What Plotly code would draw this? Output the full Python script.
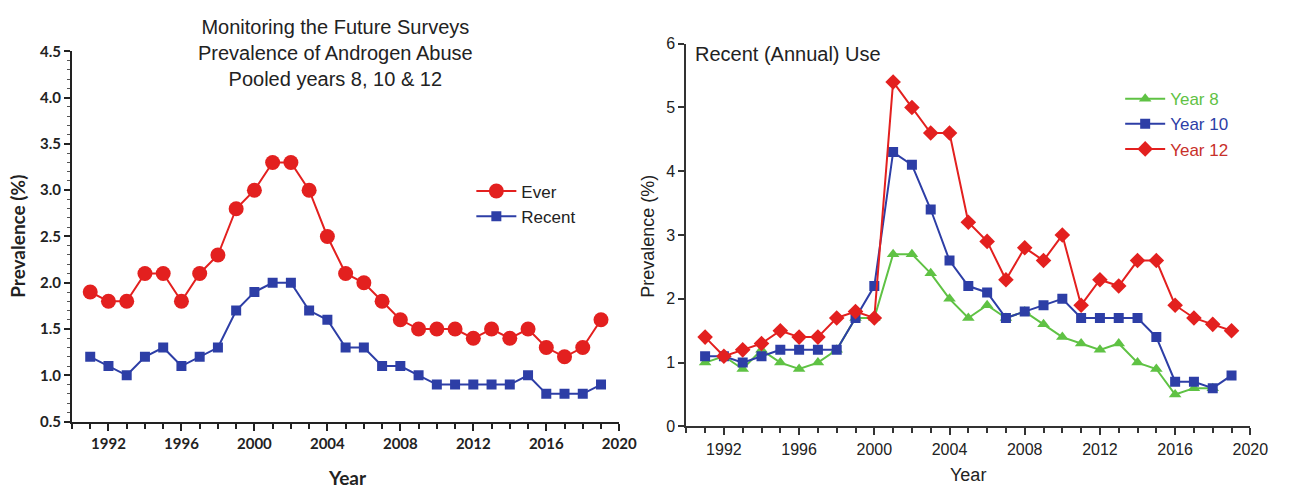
import plotly.graph_objects as go

years = list(range(1991, 2020))
ever = [1.9, 1.8, 1.8, 2.1, 2.1, 1.8, 2.1, 2.3, 2.8, 3.0, 3.3, 3.3, 3.0, 2.5, 2.1,
        2.0, 1.8, 1.6, 1.5, 1.5, 1.5, 1.4, 1.5, 1.4, 1.5, 1.3, 1.2, 1.3, 1.6]
recent = [1.2, 1.1, 1.0, 1.2, 1.3, 1.1, 1.2, 1.3, 1.7, 1.9, 2.0, 2.0, 1.7, 1.6, 1.3,
          1.3, 1.1, 1.1, 1.0, 0.9, 0.9, 0.9, 0.9, 0.9, 1.0, 0.8, 0.8, 0.8, 0.9]

years8 = list(range(1991, 2019))
year8 = [1.0, 1.1, 0.9, 1.2, 1.0, 0.9, 1.0, 1.2, 1.7, 1.7, 2.7, 2.7, 2.4, 2.0, 1.7,
         1.9, 1.7, 1.8, 1.6, 1.4, 1.3, 1.2, 1.3, 1.0, 0.9, 0.5, 0.6, 0.6]
year10 = [1.1, 1.1, 1.0, 1.1, 1.2, 1.2, 1.2, 1.2, 1.7, 2.2, 4.3, 4.1, 3.4, 2.6, 2.2,
          2.1, 1.7, 1.8, 1.9, 2.0, 1.7, 1.7, 1.7, 1.7, 1.4, 0.7, 0.7, 0.6, 0.8]
year12 = [1.4, 1.1, 1.2, 1.3, 1.5, 1.4, 1.4, 1.7, 1.8, 1.7, 5.4, 5.0, 4.6, 4.6, 3.2,
          2.9, 2.3, 2.8, 2.6, 3.0, 1.9, 2.3, 2.2, 2.6, 2.6, 1.9, 1.7, 1.6, 1.5]

x_ticks = [1992, 1996, 2000, 2004, 2008, 2012, 2016, 2020]

RED = "#e3201f"
BLUE = "#2d3ea6"
GREEN = "#5fc244"
LEG_RED = "#c8302a"

def colored(txt, c):
    return f"<span style='color:{c}'>{txt}</span>"

fig = go.Figure()

# Left panel
fig.add_trace(go.Scatter(x=years, y=ever, name="Ever", mode="lines+markers",
                         line=dict(color=RED, width=2),
                         marker=dict(symbol="circle", size=15, color=RED),
                         xaxis="x", yaxis="y", legend="legend"))
fig.add_trace(go.Scatter(x=years, y=recent, name="Recent", mode="lines+markers",
                         line=dict(color=BLUE, width=2),
                         marker=dict(symbol="square", size=10, color=BLUE),
                         xaxis="x", yaxis="y", legend="legend"))

# Right panel
fig.add_trace(go.Scatter(x=years8, y=year8, name=colored("Year 8", GREEN), mode="lines+markers",
                         line=dict(color=GREEN, width=2),
                         marker=dict(symbol="triangle-up", size=11, color=GREEN),
                         xaxis="x2", yaxis="y2", legend="legend2"))
fig.add_trace(go.Scatter(x=years, y=year10, name=colored("Year 10", BLUE), mode="lines+markers",
                         line=dict(color=BLUE, width=2),
                         marker=dict(symbol="square", size=10, color=BLUE),
                         xaxis="x2", yaxis="y2", legend="legend2"))
fig.add_trace(go.Scatter(x=years, y=year12, name=colored("Year 12", LEG_RED), mode="lines+markers",
                         line=dict(color=RED, width=2),
                         marker=dict(symbol="diamond", size=12, color=RED),
                         xaxis="x2", yaxis="y2", legend="legend2"))

W, H = 1292, 496
def px(x): return x / W
def py(y): return 1 - y / H

bold_font = dict(family="Lato, Open Sans, sans-serif", size=15, color="#222", weight="bold")
arial = dict(family="Liberation Sans, Arial, sans-serif", size=16, color="#222")

fig.update_layout(
    width=W, height=H,
    margin=dict(l=0, r=0, t=0, b=0),
    paper_bgcolor="white", plot_bgcolor="white",
    xaxis=dict(domain=[px(73), px(628)], range=[1990, 2020], anchor="y",
               tickvals=x_ticks, ticks="outside", ticklen=7, tickwidth=2,
               tickcolor="#222", showline=True, linecolor="#222", linewidth=2,
               showgrid=False, zeroline=False, tickfont=bold_font,
               minor=dict(dtick=1, tick0=1990, ticks="outside", ticklen=5,
                          tickwidth=2, tickcolor="#222", showgrid=False)),
    yaxis=dict(domain=[py(428), py(43)], range=[0.5, 4.5], anchor="x",
               dtick=0.5, tickformat=".1f", ticks="outside", ticklen=6, tickwidth=2,
               tickcolor="#222", showline=True, linecolor="#222", linewidth=2,
               showgrid=False, zeroline=False, tickfont=bold_font,
               minor=dict(dtick=0.1, ticks="outside", ticklen=3, tickwidth=1,
                          tickcolor="#555", showgrid=False)),
    xaxis2=dict(domain=[px(696), px(1268)], range=[1990, 2020], anchor="y2",
                tickvals=x_ticks, ticks="outside", ticklen=7, tickwidth=1.5,
                tickcolor="#333", showline=True, linecolor="#333", linewidth=2,
                showgrid=False, zeroline=False, tickfont=arial,
                minor=dict(dtick=1, tick0=1990, ticks="outside", ticklen=5,
                           tickwidth=1.5, tickcolor="#333", showgrid=False)),
    yaxis2=dict(domain=[py(433), py(35)], range=[0, 6], anchor="x2",
                dtick=1, ticks="outside", ticklen=6, tickwidth=1.5,
                tickcolor="#333", showline=True, linecolor="#333", linewidth=2,
                showgrid=False, zeroline=False, tickfont=arial),
    legend=dict(x=px(478), y=py(170), xanchor="left", yanchor="top",
                bgcolor="rgba(0,0,0,0)", tracegroupgap=0, itemwidth=40,
                font=dict(family="Liberation Sans, Arial, sans-serif", size=17, color="#222")),
    legend2=dict(x=px(1136), y=py(74), xanchor="left", yanchor="top",
                 bgcolor="rgba(0,0,0,0)", tracegroupgap=0, itemwidth=40,
                 font=dict(family="Liberation Sans, Arial, sans-serif", size=17)),
    showlegend=True,
)

annotations = [
    dict(text="Monitoring the Future Surveys<br>Prevalence of Androgen Abuse<br>Pooled years 8, 10 &amp; 12",
         x=px(340), y=py(4), xanchor="center", yanchor="top",
         font=dict(family="Liberation Sans, Arial, sans-serif", size=20, color="#222")),
    dict(text="<b>Prevalence (%)</b>", x=px(18), y=py(235), textangle=-90,
         xanchor="center", yanchor="middle",
         font=dict(family="Lato, Open Sans, sans-serif", size=19, color="#222")),
    dict(text="<b>Year</b>", x=px(352), y=py(486), xanchor="center", yanchor="middle",
         font=dict(family="Lato, Open Sans, sans-serif", size=19, color="#222")),
    dict(text="Recent (Annual) Use", x=px(703), y=py(46), xanchor="left", yanchor="middle",
         font=dict(family="Liberation Sans, Arial, sans-serif", size=20, color="#222")),
    dict(text="Prevalence (%)", x=px(657), y=py(235), textangle=-90,
         xanchor="center", yanchor="middle",
         font=dict(family="Liberation Sans, Arial, sans-serif", size=18, color="#222")),
    dict(text="Year", x=px(982), y=py(484), xanchor="center", yanchor="middle",
         font=dict(family="Liberation Sans, Arial, sans-serif", size=18, color="#222")),
]
for a in annotations:
    a.update(xref="paper", yref="paper", showarrow=False)
fig.update_layout(annotations=annotations)

fig.write_html("out.html", config={"displayModeBar": False},
               post_script="document.body.style.margin='0';")
